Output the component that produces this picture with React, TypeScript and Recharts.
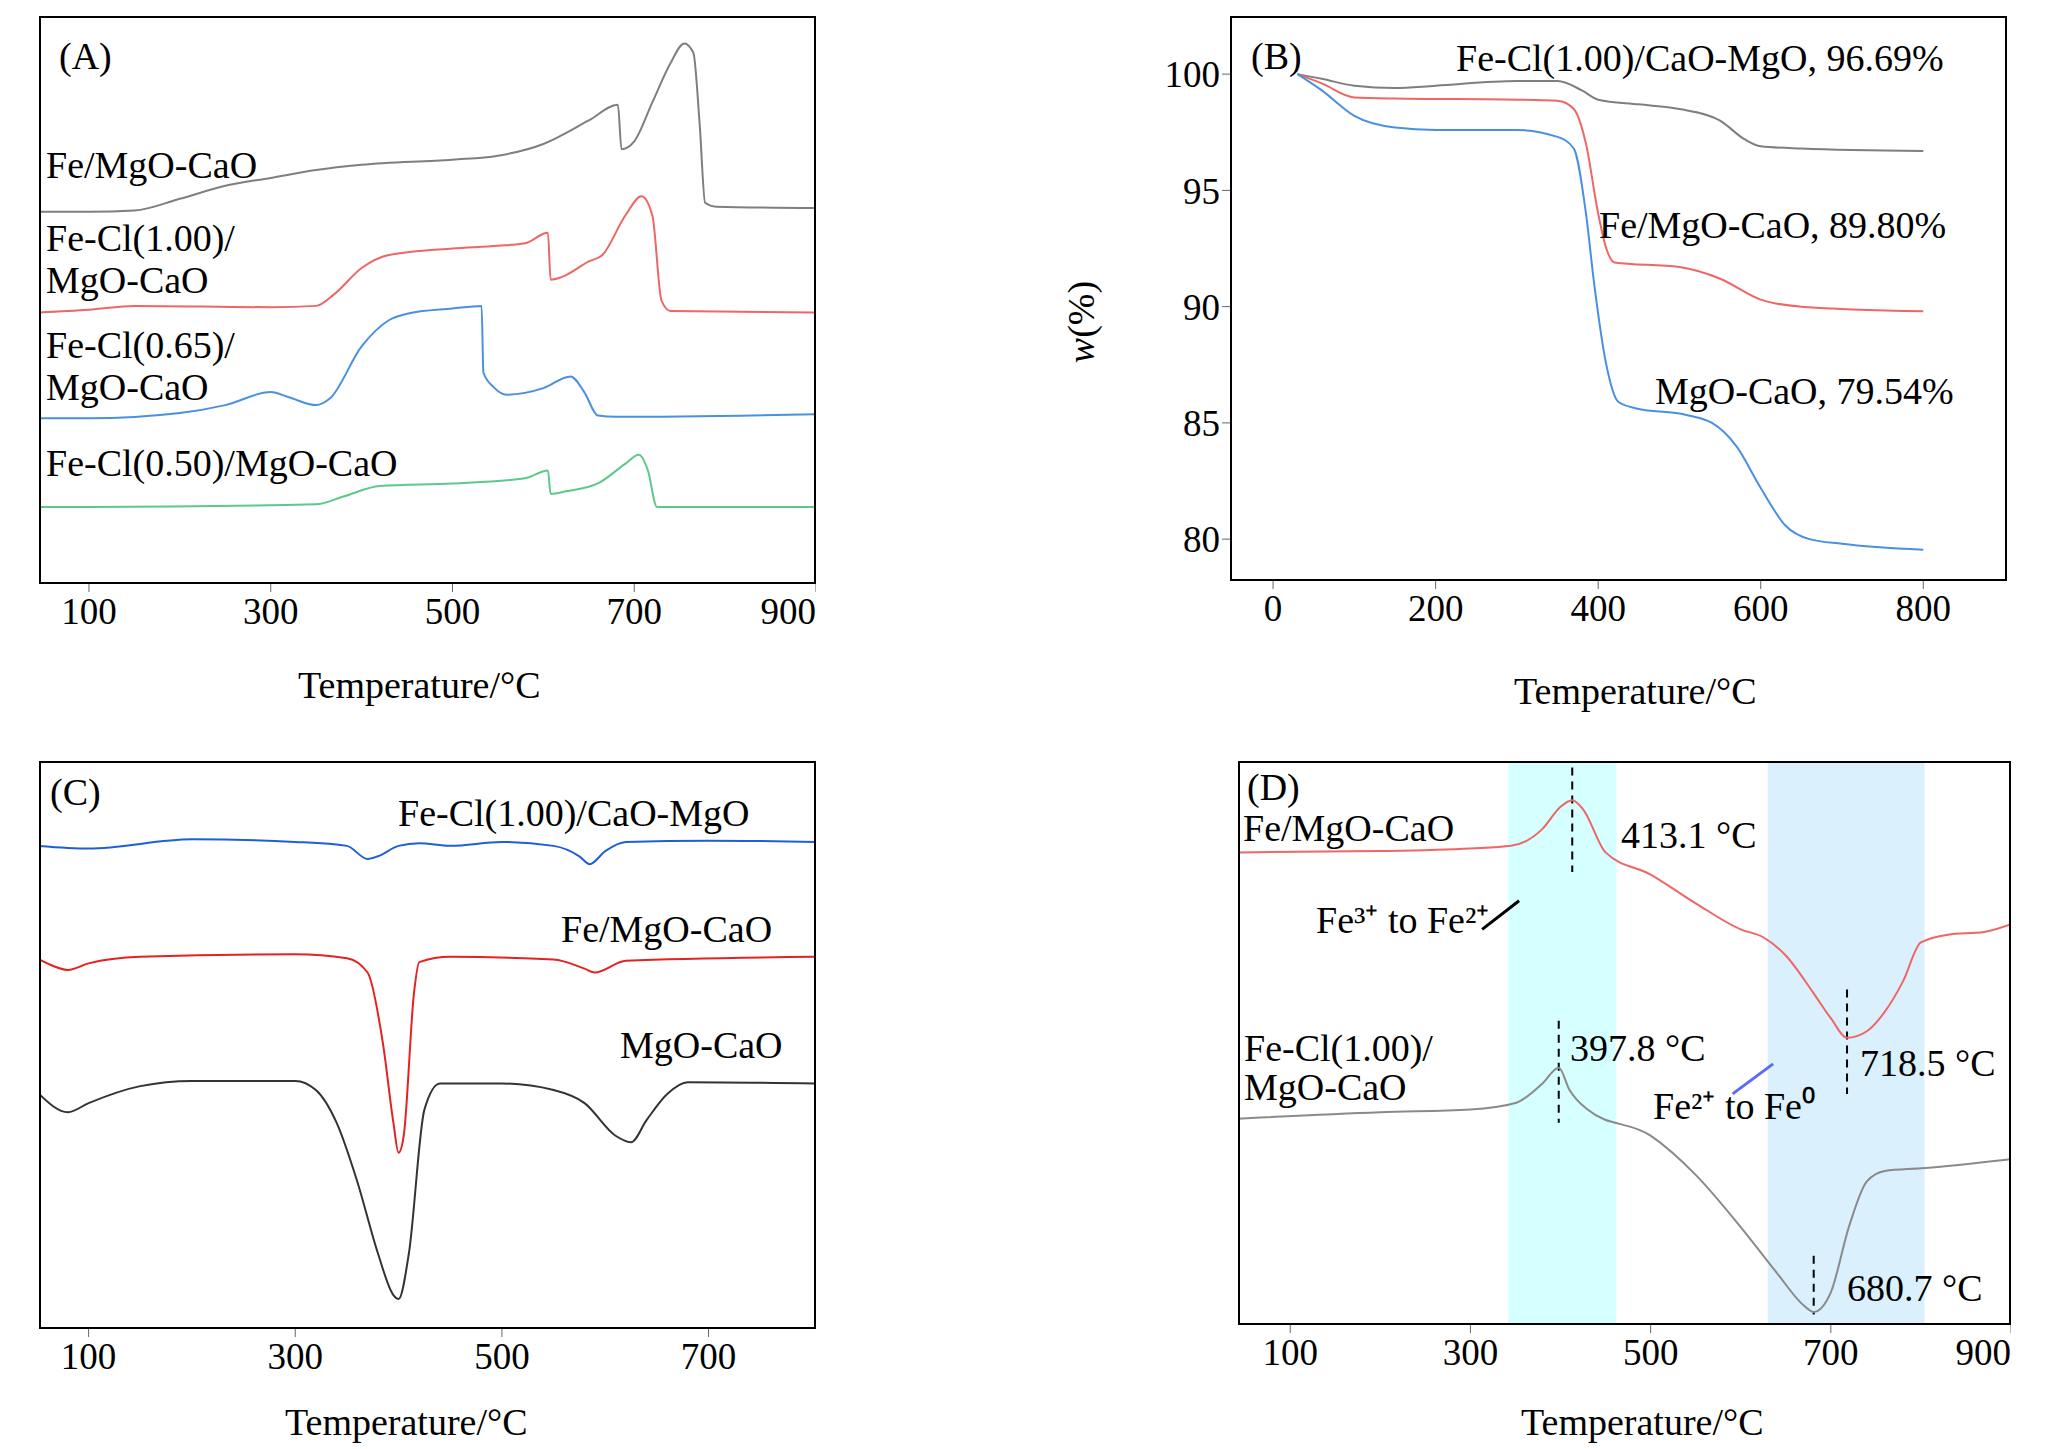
import React from 'react';
import { LineChart, Line, XAxis, YAxis, ReferenceArea, ReferenceLine } from 'recharts';

const FONT = '"Liberation Serif", "Times New Roman", serif';

// Panel A (y in arbitrary units, reversed)
const aGray = [[45,162],[100,162],[150,161],[200,152],[250,142],[300,136],[350,130],[400,126],[500,122],[550,119],[600,110],[650,92],[682,80],[686,114],[700,108],[720,78],[740,48],[755,33],[765,40],[772,95],[778,155],[790,158],[900,159]];
const aRed = [[45,239],[100,237],[150,234],[300,235],[350,234],[370,225],[400,205],[430,195],[500,190],[550,188],[580,186],[605,178],[608,214],[620,212],[650,200],[665,195],[690,165],[708,150],[720,165],[730,230],[740,238],[900,239]];
const aBlue = [[45,320],[100,320],[200,316],[250,310],[300,300],[320,304],[350,310],[365,305],[400,265],[430,245],[450,240],[500,236],[532,234],[534,285],[545,296],[560,302],[600,297],[630,288],[645,300],[660,318],[680,319],[900,317]];
const aGreen = [[45,388],[100,388],[350,386],[380,380],[420,372],[500,370],[580,366],[605,360],[608,378],[625,376],[660,370],[690,355],[705,348],[715,360],[725,388],[900,388]];

// Panel B (weight %)
const bGray = [[30,100],[60,99.8],[100,99.5],[150,99.4],[200,99.5],[300,99.7],[350,99.7],[380,99.3],[400,98.9],[450,98.7],[500,98.5],[550,98.0],[580,97.2],[600,96.9],[650,96.8],[800,96.69]];
const bRed = [[30,100],[60,99.6],[100,99.0],[150,98.95],[300,98.9],[350,98.85],[370,98.5],[385,97],[400,94],[410,92.5],[420,91.9],[500,91.7],[550,91.2],[600,90.3],[650,90.0],[800,89.8]];
const bBlue = [[30,100],[60,99.3],[100,98.2],[150,97.7],[200,97.6],[300,97.6],[350,97.3],[370,96.8],[385,94],[395,91],[410,87.5],[425,85.9],[450,85.6],[500,85.4],[540,85.0],[570,84.0],[600,82.2],[630,80.6],[660,80.0],[700,79.8],[800,79.54]];

// Panel C
const cBlue = [[52,648],[100,650],[200,643],[300,645],[350,648],[370,658],[380,656],[400,648],[420,646],[450,648],[500,645],[550,648],[575,656],[585,662],[600,652],[620,645],[700,644],[804,645]];
const cRed = [[52,735],[60,738],[80,743],[100,738],[150,733],[300,731],[350,734],[370,745],[385,800],[395,860],[400,883],[405,870],[415,760],[420,737],[450,733],[550,735],[580,742],[590,745],[620,736],[804,733]];
const cBlack = [[52,838],[80,852],[100,845],[150,832],[200,828],[300,828],[320,835],[340,860],[360,905],[380,960],[395,992],[400,995],[410,960],[425,850],[440,830],[500,830],[550,835],[580,845],[610,870],[625,875],[640,858],[660,838],[680,829],[804,830]];

// Panel D
const dRed = [[42,653],[200,652],[300,650],[345,648],[380,635],[400,618],[413,613],[425,620],[450,653],[500,670],[550,692],[600,712],[625,718],[650,732],[680,760],[700,780],[718,795],[740,790],[760,775],[780,752],[800,722],[830,716],[870,714],[900,708]];
const dGray = [[42,857],[200,852],[300,850],[350,845],[380,830],[398,818],[410,835],[430,850],[500,870],[550,900],[600,940],[640,975],[670,1000],[681,1005],[700,990],[720,940],[740,905],[760,897],[800,895],[900,888]];

const toPts = (a: number[][]) => a.map(([x, y]) => ({ x, y }));

const tick = { fontSize: 37, fill: '#000', fontFamily: FONT };

type S = { data: number[][]; color: string };

function Panel({ left, top, w, h, xDomain, xTicks, yDomain, reversed, yTicks, series, children }: any) {
  const yw = yTicks ? 110 : 0;
  return (
    <div style={{ position: 'absolute', left: left - yw, top }}>
      <LineChart width={w + yw} height={h + 70} margin={{ top: 0, right: 0, bottom: 0, left: 0 }}>
        <XAxis type="number" dataKey="x" domain={xDomain} ticks={xTicks} allowDataOverflow
          tick={tick} height={70} axisLine={false} tickSize={8} tickMargin={6} />
        <YAxis type="number" dataKey="y" domain={yDomain} reversed={reversed} allowDataOverflow
          hide={!yTicks} ticks={yTicks} width={yw} tick={tick} axisLine={false} tickSize={8} />
        {children}
        {series.map((s: S, i: number) => (
          <Line key={i} data={toPts(s.data)} dataKey="y" stroke={s.color} strokeWidth={2}
            dot={false} isAnimationActive={false} type="monotone" />
        ))}
      </LineChart>
      <div style={{ position: 'absolute', left: yw, top: 0, width: w, height: h, border: '2px solid #000', boxSizing: 'border-box', pointerEvents: 'none' }} />
    </div>
  );
}

const labels: [string, number, number][] = [
  ['(A)', 59, 35], ['Fe/MgO-CaO', 46, 144], ['Fe-Cl(1.00)/', 46, 217], ['MgO-CaO', 46, 259],
  ['Fe-Cl(0.65)/', 46, 324], ['MgO-CaO', 46, 366], ['Fe-Cl(0.50)/MgO-CaO', 46, 442],
  ['Temperature/°C', 298, 664],
  ['(B)', 1251, 35], ['Fe-Cl(1.00)/CaO-MgO, 96.69%', 1456, 37], ['Fe/MgO-CaO, 89.80%', 1599, 204],
  ['MgO-CaO, 79.54%', 1655, 370], ['Temperature/°C', 1514, 670],
  ['(C)', 50, 771], ['Fe-Cl(1.00)/CaO-MgO', 398, 792], ['Fe/MgO-CaO', 561, 908], ['MgO-CaO', 620, 1024],
  ['Temperature/°C', 285, 1401],
  ['(D)', 1247, 766], ['Fe/MgO-CaO', 1243, 807], ['413.1 °C', 1621, 814], ['Fe³⁺ to Fe²⁺', 1316, 899],
  ['Fe-Cl(1.00)/', 1244, 1027], ['MgO-CaO', 1244, 1066], ['397.8 °C', 1570, 1027], ['718.5 °C', 1860, 1042],
  ['Fe²⁺ to Fe⁰', 1653, 1085], ['680.7 °C', 1847, 1267], ['Temperature/°C', 1521, 1401],
];

const dash = { stroke: '#000', strokeDasharray: '8 6', strokeWidth: 2 };

export default function App() {
  return (
    <div style={{ position: 'absolute', left: 0, top: 0, width: 2047, height: 1449, background: '#fff', fontFamily: FONT }}>
      <Panel left={39} top={16} w={777} h={568} xDomain={[45, 900]} xTicks={[100, 300, 500, 700, 900]}
        yDomain={[12, 447]} reversed
        series={[{ data: aGray, color: '#7f7f7f' }, { data: aRed, color: '#ee6666' }, { data: aBlue, color: '#4a90e2' }, { data: aGreen, color: '#5cc98a' }]} />
      <Panel left={1230} top={16} w={777} h={565} xDomain={[-53, 903]} xTicks={[0, 200, 400, 600, 800]}
        yDomain={[78.2, 102.5]} yTicks={[80, 85, 90, 95, 100]}
        series={[{ data: bGray, color: '#7f7f7f' }, { data: bRed, color: '#ee6666' }, { data: bBlue, color: '#4a90e2' }]} />
      <Panel left={39} top={761} w={777} h={568} xDomain={[52, 804]} xTicks={[100, 300, 500, 700]}
        yDomain={[583, 1018]} reversed
        series={[{ data: cBlue, color: '#1f5fd6' }, { data: cRed, color: '#e52222' }, { data: cBlack, color: '#333333' }]} />
      <Panel left={1238} top={761} w={773} h={564} xDomain={[42, 900]} xTicks={[100, 300, 500, 700, 900]}
        yDomain={[583, 1015]} reversed
        series={[{ data: dRed, color: '#ee6666' }, { data: dGray, color: '#8a8a8a' }]}>
        <ReferenceArea x1={342} x2={462} fill="#ccffff" fillOpacity={0.8} stroke="none" ifOverflow="hidden" />
        <ReferenceArea x1={630} x2={804} fill="#d6eefc" fillOpacity={0.9} stroke="none" ifOverflow="hidden" />
        <ReferenceLine segment={[{ x: 413, y: 588 }, { x: 413, y: 668 }]} {...dash} />
        <ReferenceLine segment={[{ x: 398, y: 782 }, { x: 398, y: 860 }]} {...dash} />
        <ReferenceLine segment={[{ x: 718, y: 758 }, { x: 718, y: 838 }]} {...dash} />
        <ReferenceLine segment={[{ x: 681, y: 962 }, { x: 681, y: 1007 }]} {...dash} />
        <ReferenceLine segment={[{ x: 313, y: 712 }, { x: 354, y: 690 }]} stroke="#000" strokeWidth={3} />
        <ReferenceLine segment={[{ x: 591, y: 838 }, { x: 636, y: 815 }]} stroke="#5b6cf0" strokeWidth={3} />
      </Panel>
      {labels.map(([t, x, y], i) => (
        <div key={i} style={{ position: 'absolute', left: x, top: y, fontSize: 38, lineHeight: '42px', whiteSpace: 'nowrap', color: '#000' }}>{t}</div>
      ))}
      <div style={{ position: 'absolute', left: 1040, top: 300, fontSize: 38, transform: 'rotate(-90deg)', whiteSpace: 'nowrap' }}>
        <i>w</i>(%)
      </div>
    </div>
  );
}
